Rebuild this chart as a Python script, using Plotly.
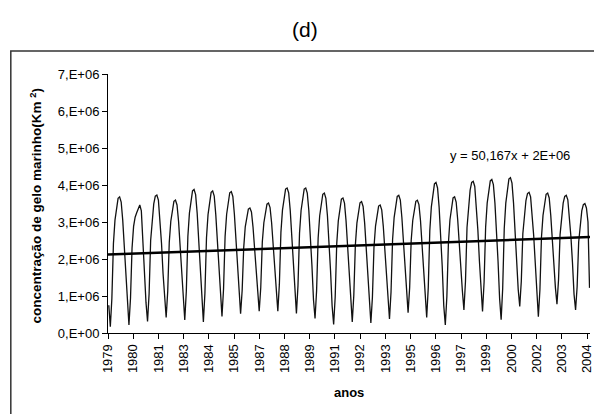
import plotly.graph_objects as go

# ---------------- data (values in millions of km²) ----------------
years = list(range(1979, 2005))

# mid-month values, Jan..Dec (2004 ends in November)
ice_1979 = [0.75, 0.17, 0.94, 2.42, 3.05, 3.43, 3.64, 3.68, 3.54, 3.05, 2.35, 1.50]
ice_1980 = [0.71, 0.22, 0.93, 2.29, 2.88, 3.13, 3.25, 3.38, 3.46, 3.30, 2.40, 1.45]
ice_1981 = [0.82, 0.31, 1.06, 2.50, 3.11, 3.49, 3.70, 3.73, 3.59, 3.11, 2.43, 1.61]
ice_1982 = [0.90, 0.42, 1.12, 2.45, 3.02, 3.37, 3.56, 3.59, 3.46, 3.02, 2.39, 1.62]
ice_1983 = [0.88, 0.35, 1.13, 2.61, 3.24, 3.63, 3.84, 3.88, 3.74, 3.24, 2.54, 1.69]
ice_1984 = [0.83, 0.30, 1.08, 2.57, 3.20, 3.59, 3.80, 3.84, 3.70, 3.20, 2.49, 1.65]
ice_1985 = [0.96, 0.45, 1.19, 2.61, 3.21, 3.58, 3.79, 3.82, 3.69, 3.21, 2.54, 1.73]
ice_1986 = [0.95, 0.52, 1.15, 2.30, 2.87, 3.18, 3.35, 3.38, 3.27, 2.87, 2.29, 1.61]
ice_1987 = [1.03, 0.59, 1.23, 2.46, 2.98, 3.31, 3.48, 3.51, 3.39, 2.98, 2.40, 1.70]
ice_1988 = [1.09, 0.59, 1.32, 2.72, 3.32, 3.69, 3.89, 3.92, 3.79, 3.32, 2.65, 1.86]
ice_1989 = [1.04, 0.53, 1.28, 2.70, 3.31, 3.68, 3.89, 3.92, 3.78, 3.31, 2.63, 1.82]
ice_1990 = [0.90, 0.39, 1.14, 2.56, 3.17, 3.54, 3.75, 3.78, 3.64, 3.17, 2.49, 1.68]
ice_1991 = [0.74, 0.23, 0.98, 2.42, 3.03, 3.41, 3.62, 3.65, 3.51, 3.03, 2.35, 1.53]
ice_1992 = [0.79, 0.30, 1.02, 2.38, 2.97, 3.32, 3.52, 3.55, 3.42, 2.97, 2.32, 1.54]
ice_1993 = [0.75, 0.27, 0.97, 2.31, 2.89, 3.24, 3.43, 3.46, 3.33, 2.89, 2.25, 1.48]
ice_1994 = [0.88, 0.38, 1.11, 2.52, 3.12, 3.49, 3.69, 3.72, 3.59, 3.12, 2.45, 1.65]
ice_1995 = [1.01, 0.55, 1.22, 2.50, 3.04, 3.38, 3.56, 3.59, 3.47, 3.04, 2.43, 1.71]
ice_1996 = [0.97, 0.42, 1.22, 2.76, 3.41, 3.81, 4.03, 4.07, 3.92, 3.41, 2.68, 1.81]
ice_1997 = [0.74, 0.22, 0.98, 2.43, 3.06, 3.44, 3.65, 3.68, 3.54, 3.06, 2.37, 1.53]
ice_1998 = [1.14, 0.62, 1.39, 2.85, 3.47, 3.86, 4.07, 4.10, 3.96, 3.47, 2.78, 1.94]
ice_1999 = [1.12, 0.58, 1.37, 2.86, 3.51, 3.90, 4.11, 4.15, 4.01, 3.51, 2.79, 1.94]
ice_2000 = [0.94, 0.36, 1.20, 2.82, 3.51, 3.93, 4.16, 4.20, 4.05, 3.51, 2.74, 1.82]
ice_2001 = [1.18, 0.72, 1.40, 2.69, 3.25, 3.58, 3.77, 3.80, 3.68, 3.25, 2.63, 1.89]
ice_2002 = [0.94, 0.44, 1.17, 2.58, 3.18, 3.55, 3.75, 3.78, 3.65, 3.18, 2.51, 1.71]
ice_2003 = [1.22, 0.78, 1.43, 2.66, 3.19, 3.51, 3.69, 3.72, 3.60, 3.19, 2.60, 1.90]
ice_2004 = [1.05, 0.62, 1.25, 2.46, 2.98, 3.30, 3.47, 3.50, 3.38, 3.00, 1.22]

monthly_values = [ice_1979, ice_1980, ice_1981, ice_1982, ice_1983, ice_1984, ice_1985,
                  ice_1986, ice_1987, ice_1988, ice_1989, ice_1990, ice_1991, ice_1992,
                  ice_1993, ice_1994, ice_1995, ice_1996, ice_1997, ice_1998, ice_1999,
                  ice_2000, ice_2001, ice_2002, ice_2003, ice_2004]

# linear trend (per day), as printed on the chart; intercept
trend_slope_per_day = 50.167
trend_intercept = 2.12e6

x_tick_labels = ["1979", "1980", "1981", "1983", "1984", "1985", "1987", "1988", "1989", "1991",
                 "1992", "1993", "1995", "1996", "1997", "1999", "2000", "2002", "2003", "2004"]
y_tick_values = [0, 1e6, 2e6, 3e6, 4e6, 5e6, 6e6, 7e6]
y_tick_labels = ["0,E+00", "1,E+06", "2,E+06", "3,E+06", "4,E+06", "5,E+06", "6,E+06", "7,E+06"]

# ---------------- build series ----------------
x_start, x_end = 1979.0, 2004.9
tick_step = 1.355  # category-axis label interval (in years)

xs, ys = [], []
for yr, vals in zip(years, monthly_values):
    for m, v in enumerate(vals):
        xs.append(yr + (m + 0.5) / 12)
        ys.append(v * 1e6)

trend_x = [x_start, x_end]
trend_y = [trend_intercept + trend_slope_per_day * (t - x_start) * 365.25 for t in trend_x]

tick_positions = [x_start + k * tick_step for k in range(len(x_tick_labels))]

FONT = "Liberation Sans, Arial, sans-serif"

fig = go.Figure()
fig.add_trace(go.Scatter(x=xs, y=ys, mode="lines",
                         line=dict(color="#111111", width=1.3), showlegend=False))
fig.add_trace(go.Scatter(x=trend_x, y=trend_y, mode="lines",
                         line=dict(color="black", width=2.5), showlegend=False))

L, T, W, H = 108, 74, 594, 414
B = 81
plot_w = W - L
plot_h = H - T - B


def px_x(p):
    return (p - L) / plot_w


def px_y(p):
    return (H - B - p) / plot_h


fig.update_layout(
    width=W, height=H,
    margin=dict(l=L, r=0, t=T, b=B),
    paper_bgcolor="white", plot_bgcolor="white",
    font=dict(family=FONT, size=13, color="black"),
    showlegend=False,
    xaxis=dict(range=[x_start, x_end], tickvals=tick_positions, ticktext=x_tick_labels,
               tickangle=-90, showline=True, linecolor="black", linewidth=1,
               ticks="outside", ticklen=5, tickcolor="black", showgrid=False,
               zeroline=False, tickfont=dict(size=13), ticklabeloverflow="allow"),
    yaxis=dict(range=[0, 7e6], tickvals=y_tick_values, ticktext=y_tick_labels,
               showline=True, linecolor="black", linewidth=1,
               ticks="outside", ticklen=5, tickcolor="black", showgrid=False,
               zeroline=False, tickfont=dict(size=13)),
    shapes=[dict(type="rect", xref="paper", yref="paper",
                 x0=px_x(10), x1=px_x(W + 5), y0=px_y(H + 5), y1=px_y(51),
                 line=dict(color="#333333", width=1.5), fillcolor="rgba(0,0,0,0)", layer="below")],
    annotations=[
        dict(text="(d)", x=px_x(307), y=px_y(30), xref="paper", yref="paper",
             showarrow=False, xanchor="center", yanchor="middle", font=dict(size=21)),
        dict(text="y = 50,167x + 2E+06", x=px_x(513), y=px_y(155), xref="paper", yref="paper",
             showarrow=False, xanchor="center", yanchor="middle", font=dict(size=13)),
        dict(text="<b>anos</b>", x=0.5, y=px_y(392), xref="paper", yref="paper",
             showarrow=False, xanchor="center", yanchor="middle", font=dict(size=13)),
        dict(text="<b>concentração de gelo marinho(Km <sup>2</sup>)</b>", x=px_x(35), y=px_y(206),
             xref="paper", yref="paper", textangle=-90,
             showarrow=False, xanchor="center", yanchor="middle", font=dict(size=13.5)),
    ],
)

fig.write_html("out.html")
